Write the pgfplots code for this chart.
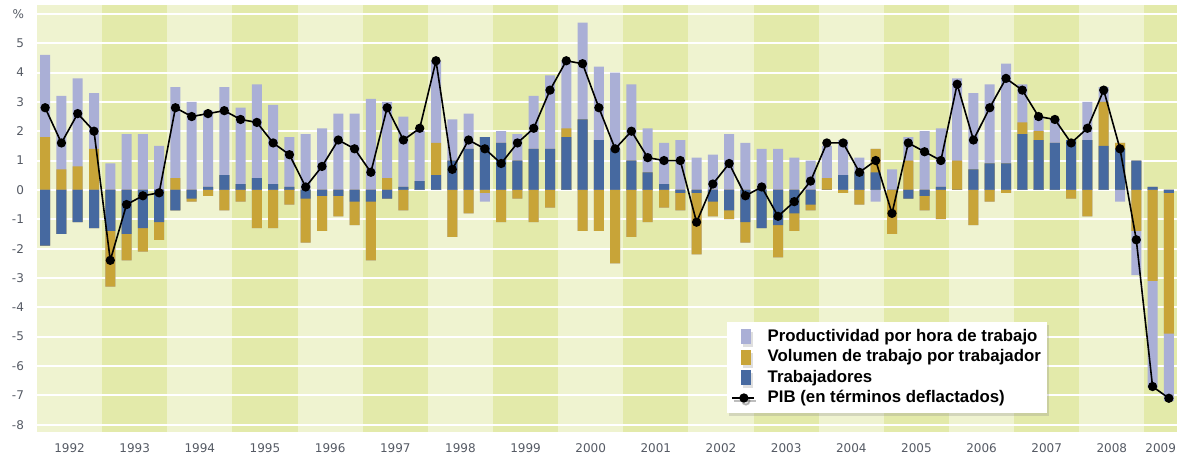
\documentclass[border=0pt]{standalone}
\usepackage{fontspec}
\setmainfont{Liberation Sans}
\newfontfamily\tickfont{DejaVu Sans}
\usepackage{pgfplots}
\usepackage{pgfplotstable}
\pgfplotsset{compat=1.18}
\usetikzlibrary{shadows}

\definecolor{lav}{RGB}{170,175,214}
\definecolor{gold}{RGB}{200,164,56}
\definecolor{bluew}{RGB}{70,105,160}
\definecolor{bandlight}{RGB}{239,243,208}
\definecolor{banddark}{RGB}{227,234,170}
\definecolor{tickgray}{RGB}{85,90,100}

% i: quarter index (0 = 1992 Q1); b: Trabajadores; g: Volumen de trabajo por trabajador;
% l: Productividad por hora de trabajo; pib: PIB
\pgfplotstableread{
i b g l pib
0 -1.9 1.8 2.8 2.8
1 -1.5 0.7 2.5 1.6
2 -1.1 0.8 3.0 2.6
3 -1.3 1.4 1.9 2.0
4 -1.4 -1.9 0.9 -2.4
5 -1.5 -0.9 1.9 -0.5
6 -1.3 -0.8 1.9 -0.2
7 -1.1 -0.6 1.5 -0.1
8 -0.7 0.4 3.1 2.8
9 -0.3 -0.1 3.0 2.5
10 0.1 -0.2 2.6 2.6
11 0.5 -0.7 3.0 2.7
12 0.2 -0.4 2.6 2.4
13 0.4 -1.3 3.2 2.3
14 0.2 -1.3 2.7 1.6
15 0.1 -0.5 1.7 1.2
16 -0.3 -1.5 1.9 0.1
17 -0.2 -1.2 2.1 0.8
18 -0.2 -0.7 2.6 1.7
19 -0.4 -0.8 2.6 1.4
20 -0.4 -2.0 3.1 0.6
21 -0.3 0.4 2.6 2.8
22 0.1 -0.7 2.4 1.7
23 0.3 0.0 1.7 2.1
24 0.5 1.1 2.8 4.4
25 1.0 -1.6 1.4 0.7
26 1.4 -0.8 1.2 1.7
27 1.8 -0.1 -0.3 1.4
28 1.6 -1.1 0.4 0.9
29 1.0 -0.3 0.9 1.6
30 1.4 -1.1 1.8 2.1
31 1.4 -0.6 2.5 3.4
32 1.8 0.3 2.3 4.4
33 2.4 -1.4 3.3 4.3
34 1.7 -1.4 2.5 2.8
35 1.4 -2.5 2.6 1.4
36 1.0 -1.6 2.6 2.0
37 0.6 -1.1 1.5 1.1
38 0.2 -0.6 1.4 1.0
39 -0.1 -0.6 1.7 1.0
40 -0.1 -2.1 1.1 -1.1
41 -0.4 -0.5 1.2 0.2
42 -0.7 -0.3 1.9 0.9
43 -1.1 -0.7 1.6 -0.2
44 -1.3 0.0 1.4 0.1
45 -1.2 -1.1 1.4 -0.9
46 -0.8 -0.6 1.1 -0.4
47 -0.5 -0.2 1.0 0.3
48 0.0 0.4 1.1 1.6
49 0.5 -0.1 1.2 1.6
50 0.6 -0.5 0.5 0.6
51 0.6 0.8 -0.4 1.0
52 0.0 -1.5 0.7 -0.8
53 -0.3 1.0 0.8 1.6
54 -0.2 -0.5 2.0 1.3
55 0.1 -1.0 2.0 1.0
56 0.0 1.0 2.8 3.6
57 0.7 -1.2 2.6 1.7
58 0.9 -0.4 2.7 2.8
59 0.9 -0.1 3.4 3.8
60 1.9 0.4 1.3 3.4
61 1.7 0.3 0.5 2.5
62 1.6 0.0 0.8 2.4
63 1.7 -0.3 0.0 1.6
64 1.7 -0.9 1.3 2.1
65 1.5 1.5 0.5 3.4
66 1.4 0.2 -0.4 1.4
67 1.0 -1.4 -1.5 -1.7
68 0.1 -3.1 -3.65 -6.7
69 -0.1 -4.8 -2.3 -7.1
}\datatab

\begin{document}
\begin{tikzpicture}
\begin{axis}[
  set layers,
  scale only axis,
  width=570bp, height=213.5bp,
  at={(0,0)}, anchor=south west,
  xmin=-0.5, xmax=69.5, ymin=-8.25, ymax=6.3,
  axis line style={draw=none},
  major tick length=0pt,
  ytick={-8,-7,-6,-5,-4,-3,-2,-1,0,1,2,3,4,5,6},
  yticklabels={-8,-7,-6,-5,-4,-3,-2,-1,0,1,2,3,4,5,\%},
  xtick={1.5,5.5,9.5,13.5,17.5,21.5,25.5,29.5,33.5,37.5,41.5,45.5,49.5,53.5,57.5,61.5,65.5,68.5},
  xticklabels={1992,1993,1994,1995,1996,1997,1998,1999,2000,2001,2002,2003,2004,2005,2006,2007,2008,2009},
  ymajorgrids,
  grid style={white, line width=1bp},
  tick label style={font=\tickfont\fontsize{6bp}{7bp}\selectfont, text=tickgray},
  yticklabel style={xshift=-3bp},
  xticklabel style={yshift=-2.5bp},
  legend style={
    at={(0.605,0.258)}, anchor=north west,
    fill=white, draw=none,
    drop shadow={shadow xshift=1bp, shadow yshift=-1.5bp, opacity=0.25},
    inner xsep=2bp, inner ysep=2.5bp,
    font=\bfseries\fontsize{8.4bp}{10bp}\selectfont,
    row sep=0.6bp,
    nodes={inner sep=1bp},
    /tikz/every odd column/.append style={column sep=5.5bp},
  },
  legend cell align=left,
]
\begin{pgfonlayer}{axis background}
  \fill[bandlight] (axis cs:-0.5,-8.25) rectangle (axis cs:69.5,6.3);
  \pgfplotsinvokeforeach{1,3,5,7,9,11,13,15}{
    \fill[banddark] (axis cs:{4*#1-0.5},-8.25) rectangle (axis cs:{4*#1+3.5},6.3);
  }
  \fill[banddark] (axis cs:67.5,-8.25) rectangle (axis cs:69.5,6.3);
\end{pgfonlayer}

% positive parts (stacked: Trabajadores, Volumen, Productividad)
\addplot[ybar, bar width=5bp, bar shift=0pt, fill=lav, draw=none,
  legend image code/.code={\path (0bp,0bp) (11bp,0bp); \fill[lav] (4.5bp,-3.8bp) rectangle (9.5bp,3.8bp);}]
  table[x=i, y expr={max(\thisrow{b},0)+max(\thisrow{g},0)+max(\thisrow{l},0)}]{\datatab};
\addlegendentry{Productividad por hora de trabajo}
\addplot[ybar, bar width=5bp, bar shift=0pt, fill=gold, draw=none,
  legend image code/.code={\path (0bp,0bp) (11bp,0bp); \fill[gold] (4.5bp,-3.8bp) rectangle (9.5bp,3.8bp);}]
  table[x=i, y expr={max(\thisrow{b},0)+max(\thisrow{g},0)}]{\datatab};
\addlegendentry{Volumen de trabajo por trabajador}
\addplot[ybar, bar width=5bp, bar shift=0pt, fill=bluew, draw=none,
  legend image code/.code={\path (0bp,0bp) (11bp,0bp); \fill[bluew] (4.5bp,-3.8bp) rectangle (9.5bp,3.8bp);}]
  table[x=i, y expr={max(\thisrow{b},0)}]{\datatab};
\addlegendentry{Trabajadores}
% negative parts
\addplot[ybar, bar width=5bp, bar shift=0pt, fill=lav, draw=none, forget plot]
  table[x=i, y expr={min(\thisrow{b},0)+min(\thisrow{g},0)+min(\thisrow{l},0)}]{\datatab};
\addplot[ybar, bar width=5bp, bar shift=0pt, fill=gold, draw=none, forget plot]
  table[x=i, y expr={min(\thisrow{b},0)+min(\thisrow{g},0)}]{\datatab};
\addplot[ybar, bar width=5bp, bar shift=0pt, fill=bluew, draw=none, forget plot]
  table[x=i, y expr={min(\thisrow{b},0)}]{\datatab};
% PIB
\addplot[black, line width=0.8bp, mark=*, mark size=1.9bp, mark options={fill=black},
  legend image code/.code={\draw[black, line width=0.8bp] (0bp,0bp) -- (11bp,0bp); \fill[black] (6bp,0bp) circle (1.9bp);}]
  table[x=i, y=pib]{\datatab};
\addlegendentry{PIB (en términos deflactados)}
\end{axis}
\path (-18.5bp,-11bp) rectangle (574.5bp,216bp);
\end{tikzpicture}
\end{document}
